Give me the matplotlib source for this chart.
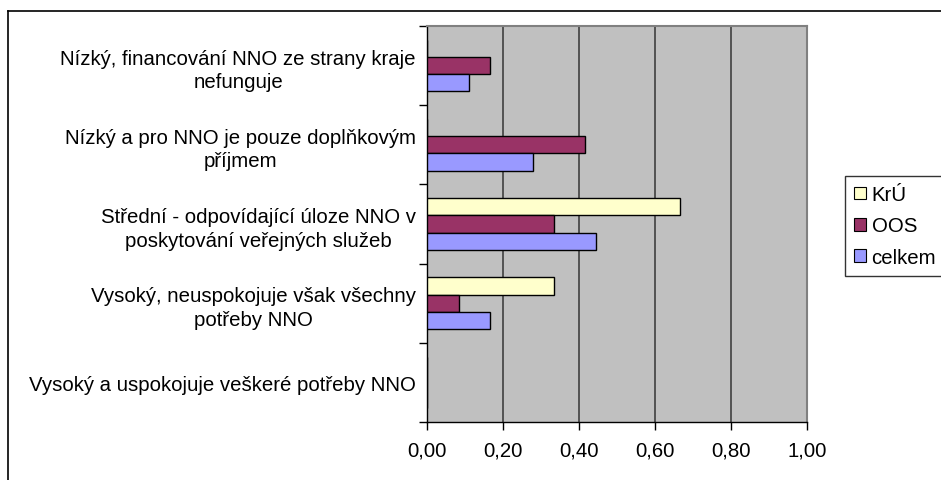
import numpy as np
import matplotlib
matplotlib.use("Agg")
import matplotlib.pyplot as plt
from matplotlib.lines import Line2D
from matplotlib.ticker import FixedLocator, FuncFormatter

plt.rcParams['font.family'] = ['Liberation Sans', 'DejaVu Sans']

# answer categories, top to bottom
categories = [
    "Nízký, financování NNO ze strany kraje\nnefunguje",
    "Nízký a pro NNO je pouze doplňkovým\npříjmem",
    "Střední - odpovídající úloze NNO v\nposkytování veřejných služeb",
    "Vysoký, neuspokojuje však všechny\npotřeby NNO",
    "Vysoký a uspokojuje veškeré potřeby NNO",
]
series_names = ["KrÚ", "OOS", "celkem"]
kru = [0.0, 0.0, 0.667, 0.333, 0.0]
oos = [0.167, 0.417, 0.333, 0.083, 0.0]
celkem = [0.111, 0.278, 0.444, 0.167, 0.0]
colors = ["#FFFFCC", "#993366", "#9999FF"]
x_ticks = [0.0, 0.2, 0.4, 0.6, 0.8, 1.0]

FS = 14.7
W, H = 941, 481
fig = plt.figure(figsize=(W / 100, H / 100), dpi=100)
ax = fig.add_axes([427 / W, 1 - 423 / H, 380 / W, 396 / H])
ax.set_facecolor("#C0C0C0")

n = len(categories)
y = np.arange(n)[::-1]  # first category at the top
bh = 0.218
for i, (vals, name) in enumerate(zip([kru, oos, celkem], series_names)):
    ax.barh(y + (1 - i) * bh, vals, height=bh, color=colors[i],
            edgecolor="black", linewidth=1.0, label=name, zorder=3)

ax.set_xlim(0, 1)
ax.set_ylim(-0.5, n - 0.5)

ax.set_xticks(x_ticks)
ax.xaxis.set_major_formatter(FuncFormatter(lambda v, p: f"{v:.2f}".replace(".", ",")))
ax.grid(axis="x", color="#404040", linewidth=1.2, zorder=1)

# boundary ticks on the category axis, labels at the centres
ax.yaxis.set_major_locator(FixedLocator(np.arange(-0.5, n, 1.0)))
ax.yaxis.set_minor_locator(FixedLocator(y))
ax.set_yticklabels([], minor=False)
ax.set_yticklabels(categories, minor=True, multialignment="center", linespacing=1.31)
ax.tick_params(axis="y", which="minor", length=0, pad=8, labelsize=FS)
ax.tick_params(axis="y", which="major", length=6, width=1, direction="out")
ax.tick_params(axis="x", length=6, width=1, direction="out", pad=7, labelsize=FS)

for side in ["top", "right"]:
    ax.spines[side].set_color("#808080")
    ax.spines[side].set_linewidth(1.5)
for side in ["left", "bottom"]:
    ax.spines[side].set_color("black")
    ax.spines[side].set_linewidth(1.0)

leg = fig.legend(loc="upper left", bbox_to_anchor=(845 / W, 1 - 177 / H),
                 fontsize=FS, frameon=True, fancybox=False, shadow=False,
                 handlelength=0.6, handleheight=0.6, handletextpad=0.25,
                 labelspacing=0.6, borderpad=0.45, borderaxespad=0)
leg.get_frame().set_edgecolor("black")
leg.get_frame().set_linewidth(1.0)
for h in leg.legend_handles:
    h.set_linewidth(0.8)

# outer chart frame
fig.add_artist(Line2D([8 / W, 8 / W], [0, 1 - 12 / H], color="black", lw=1.2))
fig.add_artist(Line2D([8 / W, 1], [1 - 12 / H, 1 - 12 / H], color="black", lw=1.2))

fig.savefig("out.png", dpi=100)
